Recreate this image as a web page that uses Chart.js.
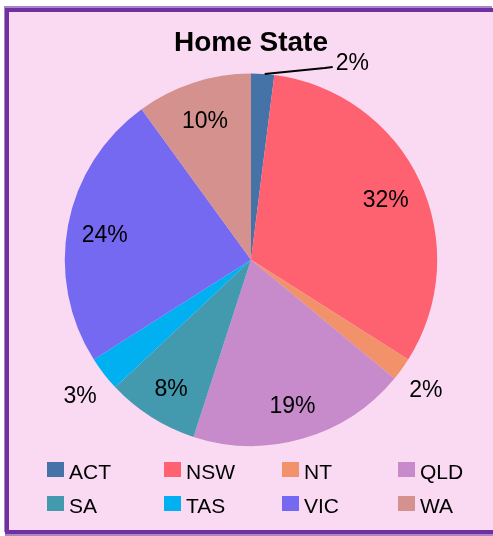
<!DOCTYPE html>
<html>
<head>
<meta charset="utf-8">
<script src="https://cdn.jsdelivr.net/npm/chart.js@4/dist/chart.umd.min.js"></script>
<style>
    html, body { margin: 0; padding: 0; background: #ffffff; overflow: hidden; width: 493px; height: 536px; }
    #frame {
        position: absolute; left: 5px; top: 8px; width: 488px; height: 526px;
        box-sizing: border-box; border: 4px solid #7030a0; border-right: none;
        box-shadow: -1px -2px 0 #a887c8, 0 2px 0 #a887c8;
        background: #fadaf3;
    }
    #wrap { position: absolute; left: 0; top: 0; width: 493px; height: 536px; }
</style>
</head>
<body>
<div id="frame"></div>
<div id="wrap"><canvas id="graph"></canvas></div>
<script>
// données du graphique
const states = ['ACT', 'NSW', 'NT', 'QLD', 'SA', 'TAS', 'VIC', 'WA'];
const shares = [2, 32, 2, 19, 8, 3, 24, 10];
const colors = ['#4573a7', '#fe6170', '#f2926a', '#c78acb', '#4399ae', '#00b0f0', '#7469f0', '#d4918e'];

// où placer chaque étiquette : dedans, dehors, ou avec un trait
const labelPos = ['leader', 'inside', 'outside', 'inside', 'inside', 'outside', 'inside', 'inside'];

const labelFont = '23px "Liberation Sans", Arial, sans-serif';

/**
 * Dessine les pourcentages sur les parts
 */
const pieLabels = {
    id: 'pieLabels',
    afterDatasetsDraw(chart) {
        const ctx = chart.ctx;
        const meta = chart.getDatasetMeta(0);
        const data = chart.data.datasets[0].data;
        const total = data.reduce((a, b) => a + b, 0);
        ctx.save();
        ctx.font = labelFont;
        ctx.fillStyle = '#000';
        ctx.textBaseline = 'middle';
        meta.data.forEach((arc, i) => {
            const p = arc.getProps(['x', 'y', 'startAngle', 'endAngle', 'outerRadius'], true);
            const mid = (p.startAngle + p.endAngle) / 2;
            const text = Math.round(data[i] / total * 100) + '%';
            if (labelPos[i] === 'leader') {
                const sx = p.x + Math.cos(mid) * p.outerRadius;
                const sy = p.y + Math.sin(mid) * p.outerRadius;
                ctx.strokeStyle = '#000';
                ctx.lineWidth = 2;
                ctx.beginPath();
                ctx.moveTo(sx + 2, sy);
                ctx.lineTo(sx + 62, sy - 6);
                ctx.lineTo(sx + 70, sy - 7);
                ctx.stroke();
                ctx.textAlign = 'left';
                ctx.fillText(text, sx + 73, sy - 10);
                return;
            }
            const r = labelPos[i] === 'inside' ? p.outerRadius * 0.8 : p.outerRadius + 30;
            ctx.textAlign = 'center';
            ctx.fillText(text, p.x + Math.cos(mid) * r, p.y + Math.sin(mid) * r + 4);
        });
        ctx.restore();
    }
};

/**
 * Légende en grille de 4 colonnes
 */
const gridLegend = {
    id: 'gridLegend',
    afterDraw(chart) {
        const ctx = chart.ctx;
        const cols = [47, 164, 282, 398];
        const rows = [470, 504];
        ctx.save();
        ctx.font = '21px "Liberation Sans", Arial, sans-serif';
        ctx.textBaseline = 'middle';
        ctx.textAlign = 'left';
        chart.data.labels.forEach((label, i) => {
            const x = cols[i % 4];
            const y = rows[Math.floor(i / 4)];
            ctx.fillStyle = chart.data.datasets[0].backgroundColor[i];
            ctx.fillRect(x, y - 8, 17, 15);
            ctx.fillStyle = '#000';
            ctx.fillText(label, x + 22, y + 3);
        });
        ctx.restore();
    }
};

const canvas = document.getElementById('graph');
new Chart(canvas, {
    type: 'pie',
    data: {
        labels: states,
        datasets: [{
            data: shares,
            backgroundColor: colors,
            borderWidth: 0,
            hoverOffset: 0,
            offset: 0
        }]
    },
    options: {
        responsive: true,
        maintainAspectRatio: false,
        animation: false,
        layout: {
            padding: { left: 60, right: 51, top: 0, bottom: 90 }
        },
        plugins: {
            legend: { display: false },
            tooltip: { enabled: false },
            title: {
                display: true,
                text: 'Home State',
                color: '#000',
                font: { family: '"Liberation Sans", Arial, sans-serif', size: 28, weight: 'bold' },
                padding: { top: 26, bottom: 14 }
            }
        }
    },
    plugins: [pieLabels, gridLegend]
});
</script>
</body>
</html>
